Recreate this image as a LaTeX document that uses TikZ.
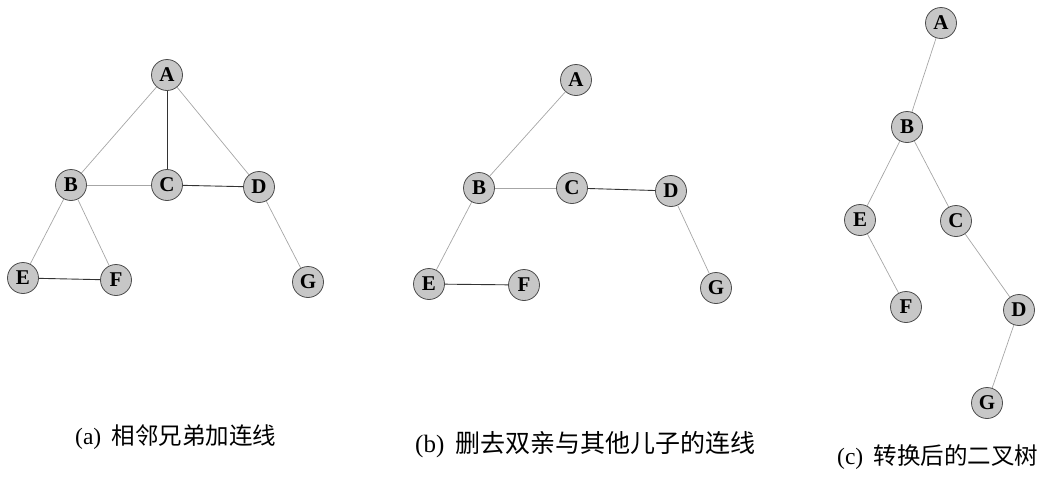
\documentclass[tikz,border=0pt]{standalone}
\usepackage{fontspec}
\setmainfont{Liberation Serif}
\newfontfamily\cjk{Noto Sans CJK SC}

\tikzset{
    vertex/.style={circle, draw=black!70, line width=0.8pt, fill=black!22,
        minimum size=31pt, inner sep=0pt, font=\fontsize{21}{21}\selectfont\bfseries},
    faint/.style={draw=black!35, line width=0.7pt},
    heavy/.style={draw=black!80, line width=0.9pt},
    caption/.style={anchor=west, inner sep=0pt, font=\fontsize{23.5}{27}\selectfont}
}

\begin{document}
\begin{tikzpicture}[x=1pt, y=-1pt]
    \useasboundingbox (0,0) rectangle (1053,485);

    % Tree (a)
    \node [vertex] (aA) at (167,75)  {A};
    \node [vertex] (aB) at (71,185)  {B};
    \node [vertex] (aC) at (167,185) {C};
    \node [vertex] (aD) at (259,187) {D};
    \node [vertex] (aE) at (23,278)  {E};
    \node [vertex] (aF) at (116,280) {F};
    \node [vertex] (aG) at (308,282) {G};
    \draw [faint] (aA) -- (aB);
    \draw [heavy] (aA) -- (aC);
    \draw [faint] (aA) -- (aD);
    \draw [faint] (aB) -- (aC);
    \draw [heavy] (aC) -- (aD);
    \draw [faint] (aB) -- (aE);
    \draw [faint] (aB) -- (aF);
    \draw [heavy] (aE) -- (aF);
    \draw [faint] (aD) -- (aG);
    \node [caption] (capa) at (75,437) {(a)\hspace{0.45em}\cjk 相邻兄弟加连线};

    % Tree (b)
    \node [vertex] (bA) at (576,80)  {A};
    \node [vertex] (bB) at (479,188) {B};
    \node [vertex] (bC) at (572,188) {C};
    \node [vertex] (bD) at (671,191) {D};
    \node [vertex] (bE) at (429,284) {E};
    \node [vertex] (bF) at (524,285) {F};
    \node [vertex] (bG) at (716,288) {G};
    \draw [faint] (bA) -- (bB);
    \draw [faint] (bB) -- (bC);
    \draw [heavy] (bC) -- (bD);
    \draw [faint] (bB) -- (bE);
    \draw [heavy] (bE) -- (bF);
    \draw [faint] (bD) -- (bG);
    \node [caption, font=\fontsize{25}{29}\selectfont] (capb) at (415,445) {(b)\hspace{0.45em}\cjk 删去双亲与其他儿子的连线};

    % Tree (c)
    \node [vertex] (cA) at (941,23)   {A};
    \node [vertex] (cB) at (907,127)  {B};
    \node [vertex] (cE) at (860,220)  {E};
    \node [vertex] (cC) at (956,221)  {C};
    \node [vertex] (cF) at (906,307)  {F};
    \node [vertex] (cD) at (1019,310) {D};
    \node [vertex] (cG) at (987,403)  {G};
    \draw [faint] (cA) -- (cB);
    \draw [faint] (cB) -- (cE);
    \draw [faint] (cB) -- (cC);
    \draw [faint] (cE) -- (cF);
    \draw [faint] (cC) -- (cD);
    \draw [faint] (cD) -- (cG);
    \node [caption] (capc) at (837,457) {(c)\hspace{0.45em}\cjk 转换后的二叉树};
\end{tikzpicture}
\end{document}
